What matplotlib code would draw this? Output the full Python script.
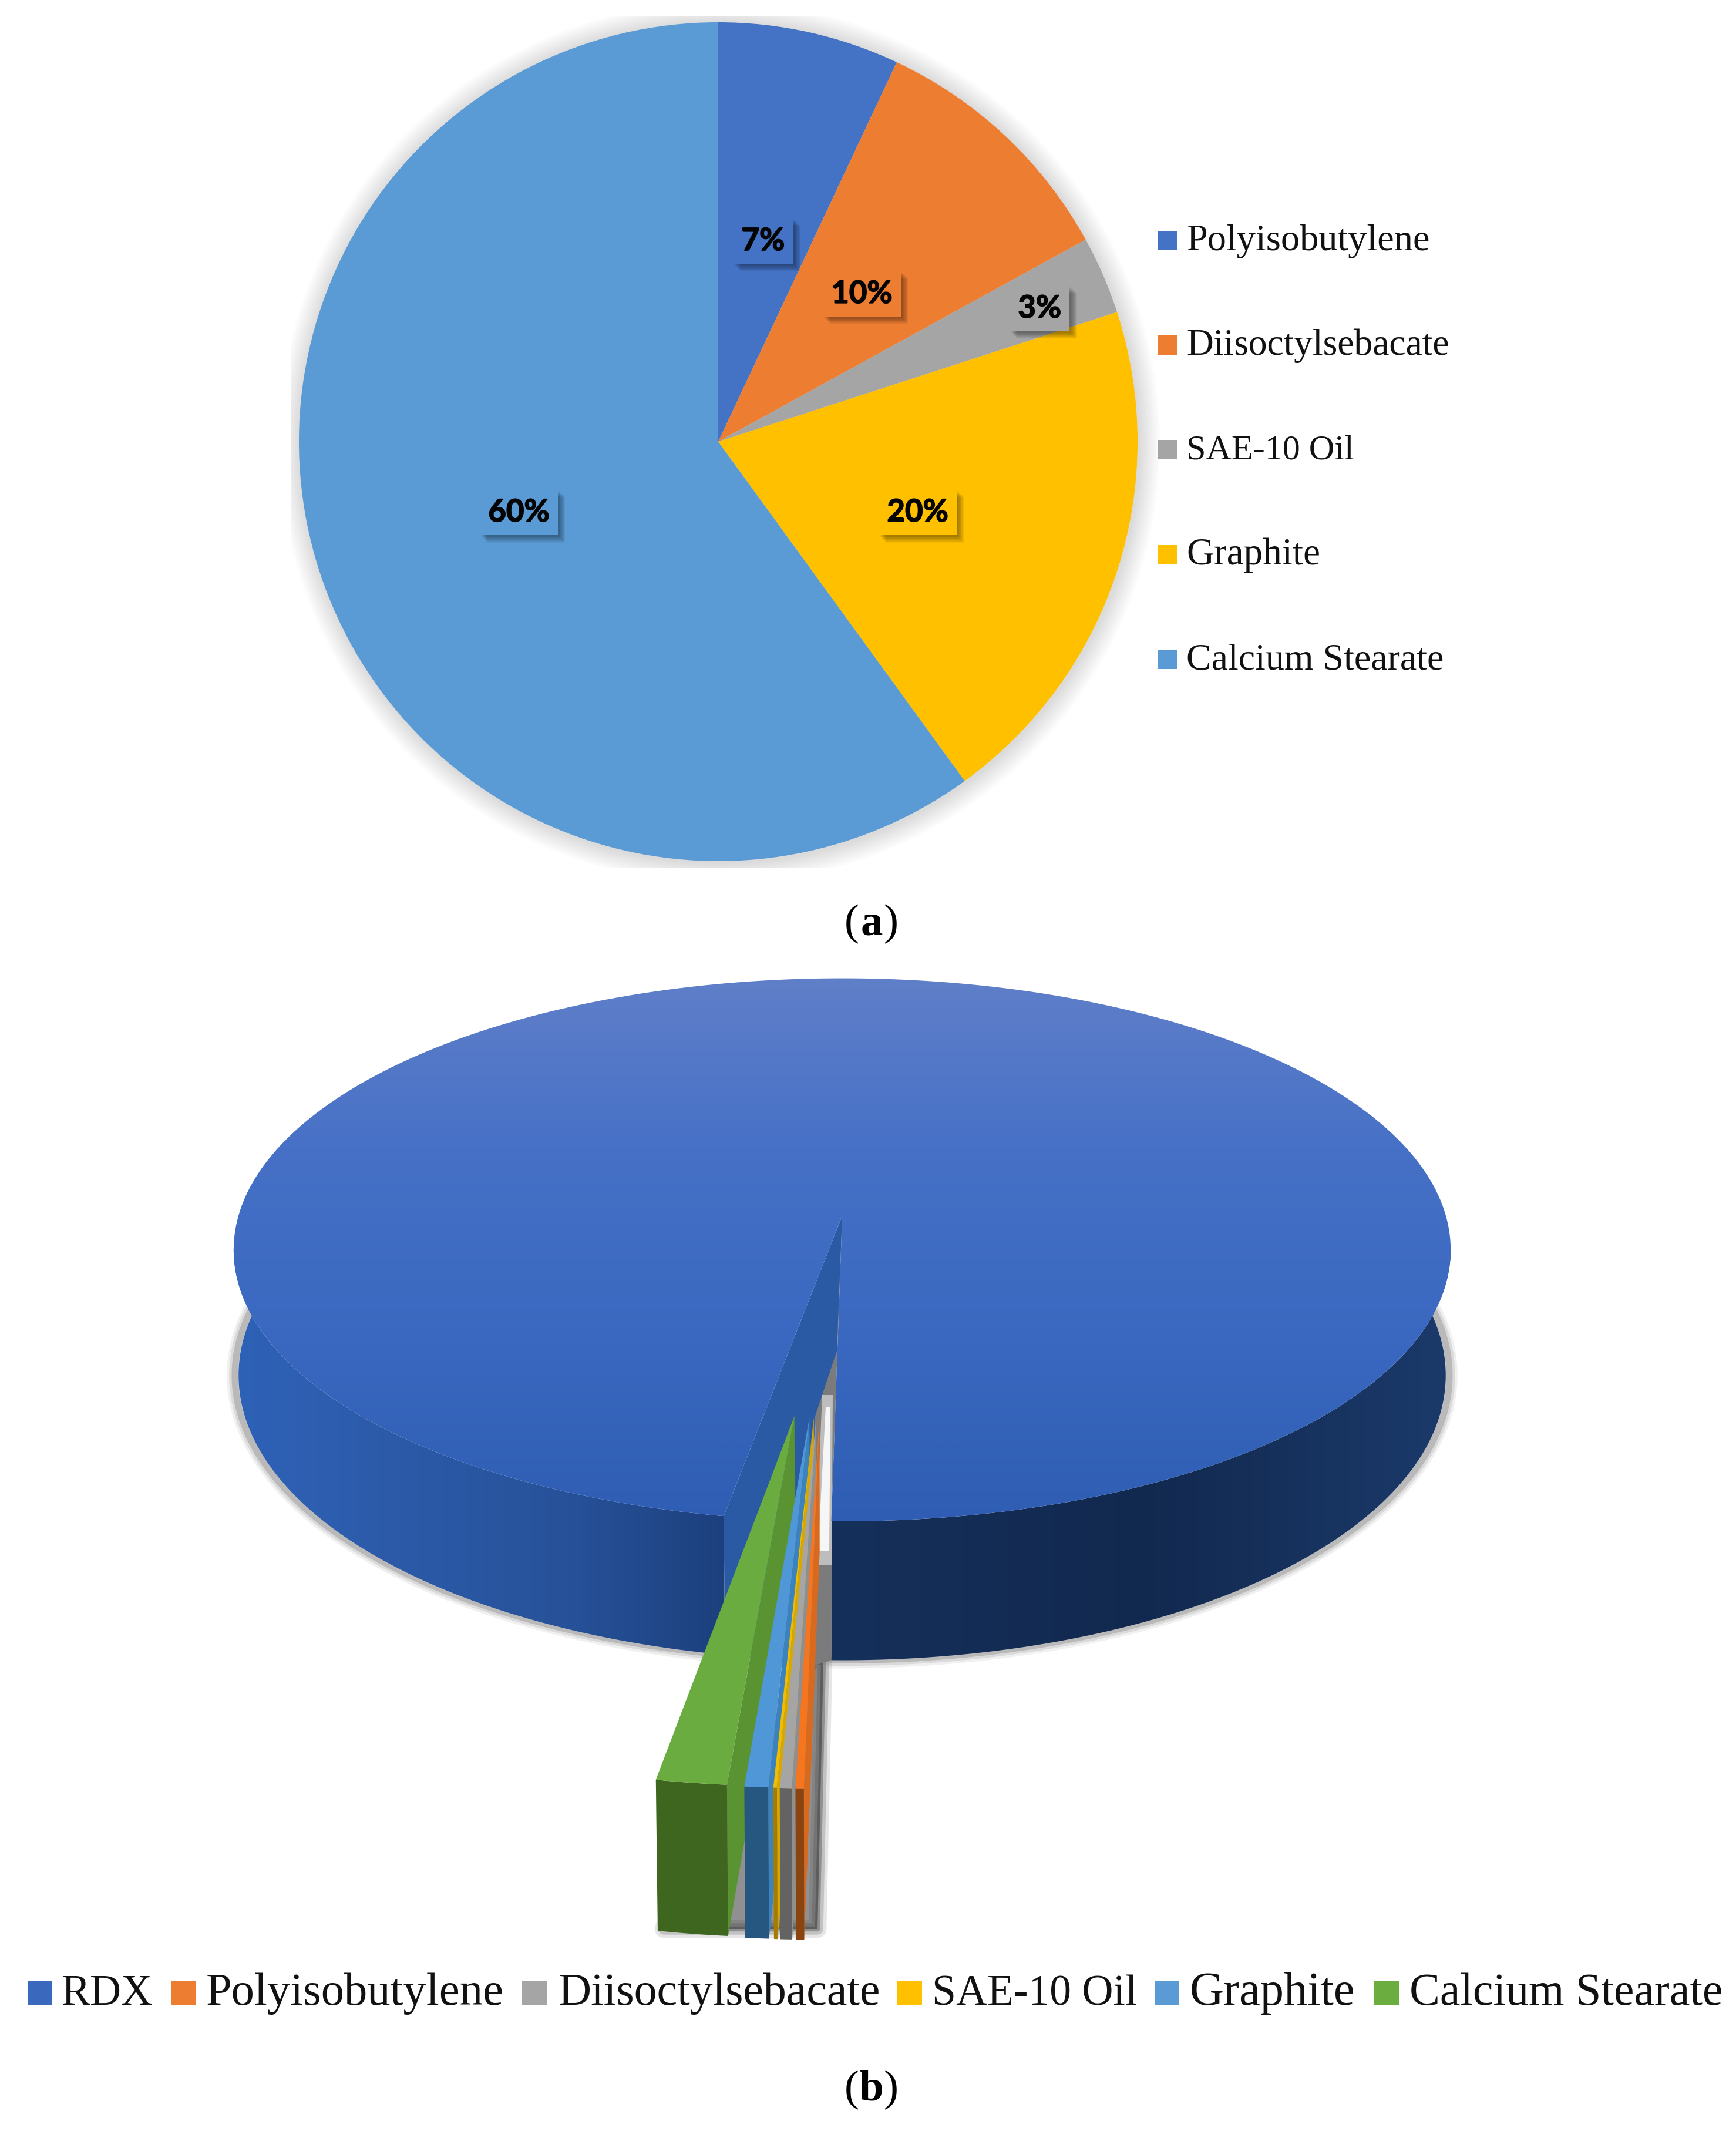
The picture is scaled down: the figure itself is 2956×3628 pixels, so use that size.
#!/usr/bin/python3

import numpy as np
import matplotlib
matplotlib.use("Agg")
import matplotlib.pyplot as plt
import matplotlib.patheffects as pe
from matplotlib.colors import LinearSegmentedColormap
from matplotlib.patches import Circle, Polygon, Rectangle

W, H = 2956, 3628

# (a) binder
names_a = ["Polyisobutylene", "Diisoctylsebacate", "SAE-10 Oil", "Graphite", "Calcium Stearate"]
values_a = [7, 10, 3, 20, 60]
labels_a = ["7%", "10%", "3%", "20%", "60%"]
colors_a = ["#4472C4", "#ED7D31", "#A5A5A5", "#FFC000", "#5B9BD5"]
label_r_a = [0.49, 0.50, 0.835, 0.50, 0.50]
label_dy_a = [0.0, -0.012, -0.014, -0.014, -0.014]

# (b) full composition
names_b = ["RDX", "Polyisobutylene", "Diisoctylsebacate", "SAE-10 Oil", "Graphite", "Calcium Stearate"]
values_b = [97.5, 0.175, 0.25, 0.075, 0.5, 1.5]
colors_b = ["#3A68BC", "#ED7D31", "#A5A5A5", "#FFC000", "#5B9BD5", "#6CAD3F"]
top_b = ["#F5761E", "#A5A5A5", "#F2BC00", "#4F97D6", "#6AAC3F"]
wall_b = ["#D86A20", "#8F8F8F", "#D9A800", "#3C82BC", "#5A9332"]
front_b = ["#8A4410", "#636363", "#A67C00", "#265780", "#3F661E"]

serif = "Liberation Serif"

fig = plt.figure(figsize=(W / 100, H / 100), dpi=100)
ax = fig.add_axes([0, 0, 1, 1])
ax.set_axis_off()

# ---- (a)
cx_a, cy_a, R_a = 1223, 752, 714
clip_a = Rectangle((495, 28), 1480, 1450, transform=ax.transData)
for d in range(36, 0, -3):
    c = Circle((cx_a + 2, cy_a + 2), R_a + d, fc="k", ec="none", alpha=0.011)
    ax.add_patch(c)
    c.set_clip_path(clip_a)

ax_a = fig.add_axes([(cx_a - R_a) / W, 1 - (cy_a + R_a) / H, 2 * R_a / W, 2 * R_a / H], zorder=2)
ax_a.patch.set_alpha(0)
wedges, _ = ax_a.pie(values_a, colors=colors_a, startangle=90, counterclock=False, radius=1.0)
ax_a.set_xlim(-1, 1)
ax_a.set_ylim(-1, 1)

for w, lab, r, dy, col in zip(wedges, labels_a, label_r_a, label_dy_a, colors_a):
    th = np.deg2rad((w.theta1 + w.theta2) / 2)
    t = ax_a.text(r * np.cos(th), r * np.sin(th) + dy, lab, ha="center", va="center",
                  family="Lato", weight="bold", fontsize=38, color="#050505",
                  bbox=dict(boxstyle="square,pad=0.27", fc=col, ec="none"))
    t.set_path_effects([pe.withStroke(linewidth=1.2, foreground="#050505")])
    t.get_bbox_patch().set_path_effects([
        pe.SimplePatchShadow(offset=(o, -o), shadow_rgbFace="k", alpha=0.05) for o in (2, 3, 4, 5, 6, 7, 8, 9)
    ] + [pe.Normal()])

legend_y_a = [426, 604, 782, 961, 1139]
legend_size_a = [46.3, 45.7, 43.3, 47, 46]
for name, col, y, fs in zip(names_a, colors_a, legend_y_a, legend_size_a):
    ax.add_patch(Rectangle((1971, y - 33), 34, 33, fc=col, ec="none"))
    ax.text(2020, y, name, family=serif, fontsize=fs, va="baseline", ha="left", color="#111111")

# ---- (b) pie seen from above, perspective projection
cx, ay = 1434, 2070
A, B, C = 1028, 455, 213
p, q = 0.125, 0.008


def project(x, y, z=0.0):
    s = 1 / (1 - p * y - q * z)
    return cx + A * x * s, ay + (B * y - C * z) * s


def rim(t1, t2, z=0.0, ox=0.0, oy=0.0, n=200):
    t = np.deg2rad(np.linspace(t1, t2, n))
    return [project(ox - np.sin(a), oy + np.cos(a), z) for a in t]


def gradient(poly, stops, extent, horizontal=False, zorder=2):
    cmap = LinearSegmentedColormap.from_list("g", stops)
    g = np.linspace(0, 1, 256)
    g = g[None, :] if horizontal else g[:, None]
    im = ax.imshow(g, cmap=cmap, extent=extent, aspect="auto", zorder=zorder, interpolation="bilinear")
    patch = Polygon(poly, closed=True, transform=ax.transData, fc="none", ec="none")
    ax.add_patch(patch)
    im.set_clip_path(patch)


rot = 0.9
small = np.array(values_b[1:]) * 3.6
edges = rot + np.concatenate([[0], np.cumsum(small)])
gap_end = edges[-1]

# soft shadow under everything, a bit wider than the bottom rim
shade = rim(gap_end, 96, -1) + [(np.nan, np.nan)] + rim(-96, rot, -1)
sx = [cx + (s[0] - cx) * 1.006 for s in shade]
sy = [s[1] for s in shade]
for lw, al in ((20, 0.06), (14, 0.09), (8, 0.15)):
    ax.plot(sx, sy, color="k", lw=lw, alpha=al, zorder=1, solid_capstyle="round")

# ground shadow of the exploded pieces
ground = [(1385, 2830), (1402, 2830), (1392, 3284), (1130, 3284), (1205, 3100)]
for lw, al in ((22, 0.12), (14, 0.2), (6, 0.35)):
    ax.add_patch(Polygon(ground, closed=True, fc="#333333", ec="#333333", lw=lw, alpha=al,
                         joinstyle="round", zorder=1.5))

# gap behind the exploded pieces
r_edge = (-np.sin(np.deg2rad(rot)), np.cos(np.deg2rad(rot)))
gap = [project(0, 0), project(*r_edge), project(*r_edge, -1), (1385, 2836), (1387, 2414)]
ax.add_patch(Polygon(gap, closed=True, fc="#7B7B7B", ec="none", zorder=2))
ax.add_patch(Polygon([(1400, 2375), (1418, 2375), (1416, 2665), (1388, 2665)], closed=True,
                     fc="#BDBDBD", ec="none", zorder=2.05))
ax.add_patch(Polygon([(1406, 2395), (1414, 2395), (1412, 2640), (1393, 2640)], closed=True,
                     fc="#F6F6F6", ec="none", zorder=2.1))

# cut wall of RDX on the left of the gap
edge = (-np.sin(np.deg2rad(gap_end)), np.cos(np.deg2rad(gap_end)))
ax.add_patch(Polygon([project(0, 0), project(*edge), project(*edge, -1), (1385, 2836), (1387, 2414), (1425, 2300)],
                     closed=True, fc="#2B5AA5", ec="none", zorder=2.2))

# outer walls
left_wall = rim(gap_end, 83) + rim(100, gap_end, -1)
right_wall = rim(-83, rot) + rim(rot, -100, -1)
gradient(left_wall, ["#2E62B8", "#2C5AA8", "#27529A", "#1C3F7C"], (395, 1250, 2850, 2000), horizontal=True)
gradient(right_wall, ["#15305B", "#12294F", "#1B3A6B"], (1410, 2480, 2850, 2000), horizontal=True)

# top of RDX
top_poly = rim(gap_end, 360 + rot, n=500) + [project(0, 0)]
gradient(top_poly, ["#607FC9", "#4570C6", "#3A68C0", "#2E5DB3"], (390, 2480, 2600, 1660), zorder=3)

# exploded slices, from the left one to the one next to the centre line
explode = 0.69
for i in range(len(small) - 1, -1, -1):
    t1, t2 = edges[i], edges[i + 1]
    mid = np.deg2rad((t1 + t2) / 2)
    # they sit closer together sideways than a plain radial explode would
    ox, oy = -0.0266 - 0.528 * explode * np.sin(mid), explode * np.cos(mid)
    o_top = project(ox, oy)
    o_bot = project(ox, oy, -1)
    arc_top = rim(t1, t2, 0, ox, oy, 20)
    arc_bot = rim(t1, t2, -1, ox, oy, 20)
    ax.add_patch(Polygon([o_top, arc_top[0], arc_bot[0], o_bot], closed=True,
                         fc=wall_b[i], ec="none", zorder=4 + (5 - i)))
    ax.add_patch(Polygon(arc_top + arc_bot[::-1], closed=True, fc=front_b[i], ec="none", zorder=4 + (5 - i)))
    ax.add_patch(Polygon([o_top] + arc_top, closed=True, fc=top_b[i], ec="none", zorder=4 + (5 - i)))

# legend of (b)
handle_x_b = [47, 292, 889, 1528, 1966, 2340]
text_x_b = [105, 351, 951, 1587, 2026, 2400]
legend_size_b = [53, 56.6, 56, 53, 58, 56]
for name, col, hx, tx, fs in zip(names_b, colors_b, handle_x_b, text_x_b, legend_size_b):
    ax.add_patch(Rectangle((hx, 3372), 42, 41, fc=col, ec="none"))
    ax.text(tx, 3413, name, family=serif, fontsize=fs, va="baseline", ha="left", color="#111111")


def caption(x, y, letter):
    ax.text(x, y, letter, family=serif, weight="bold", fontsize=54, va="baseline", ha="center", color="k")
    ax.text(x - 21, y, "(", family=serif, fontsize=54, va="baseline", ha="right", color="k")
    ax.text(x + 21, y, ")", family=serif, fontsize=54, va="baseline", ha="left", color="k")


caption(1484, 1591, "a")
caption(1484, 3576, "b")

ax.set_xlim(0, W)
ax.set_ylim(H, 0)

fig.savefig("out.png", dpi=100, facecolor="white")
